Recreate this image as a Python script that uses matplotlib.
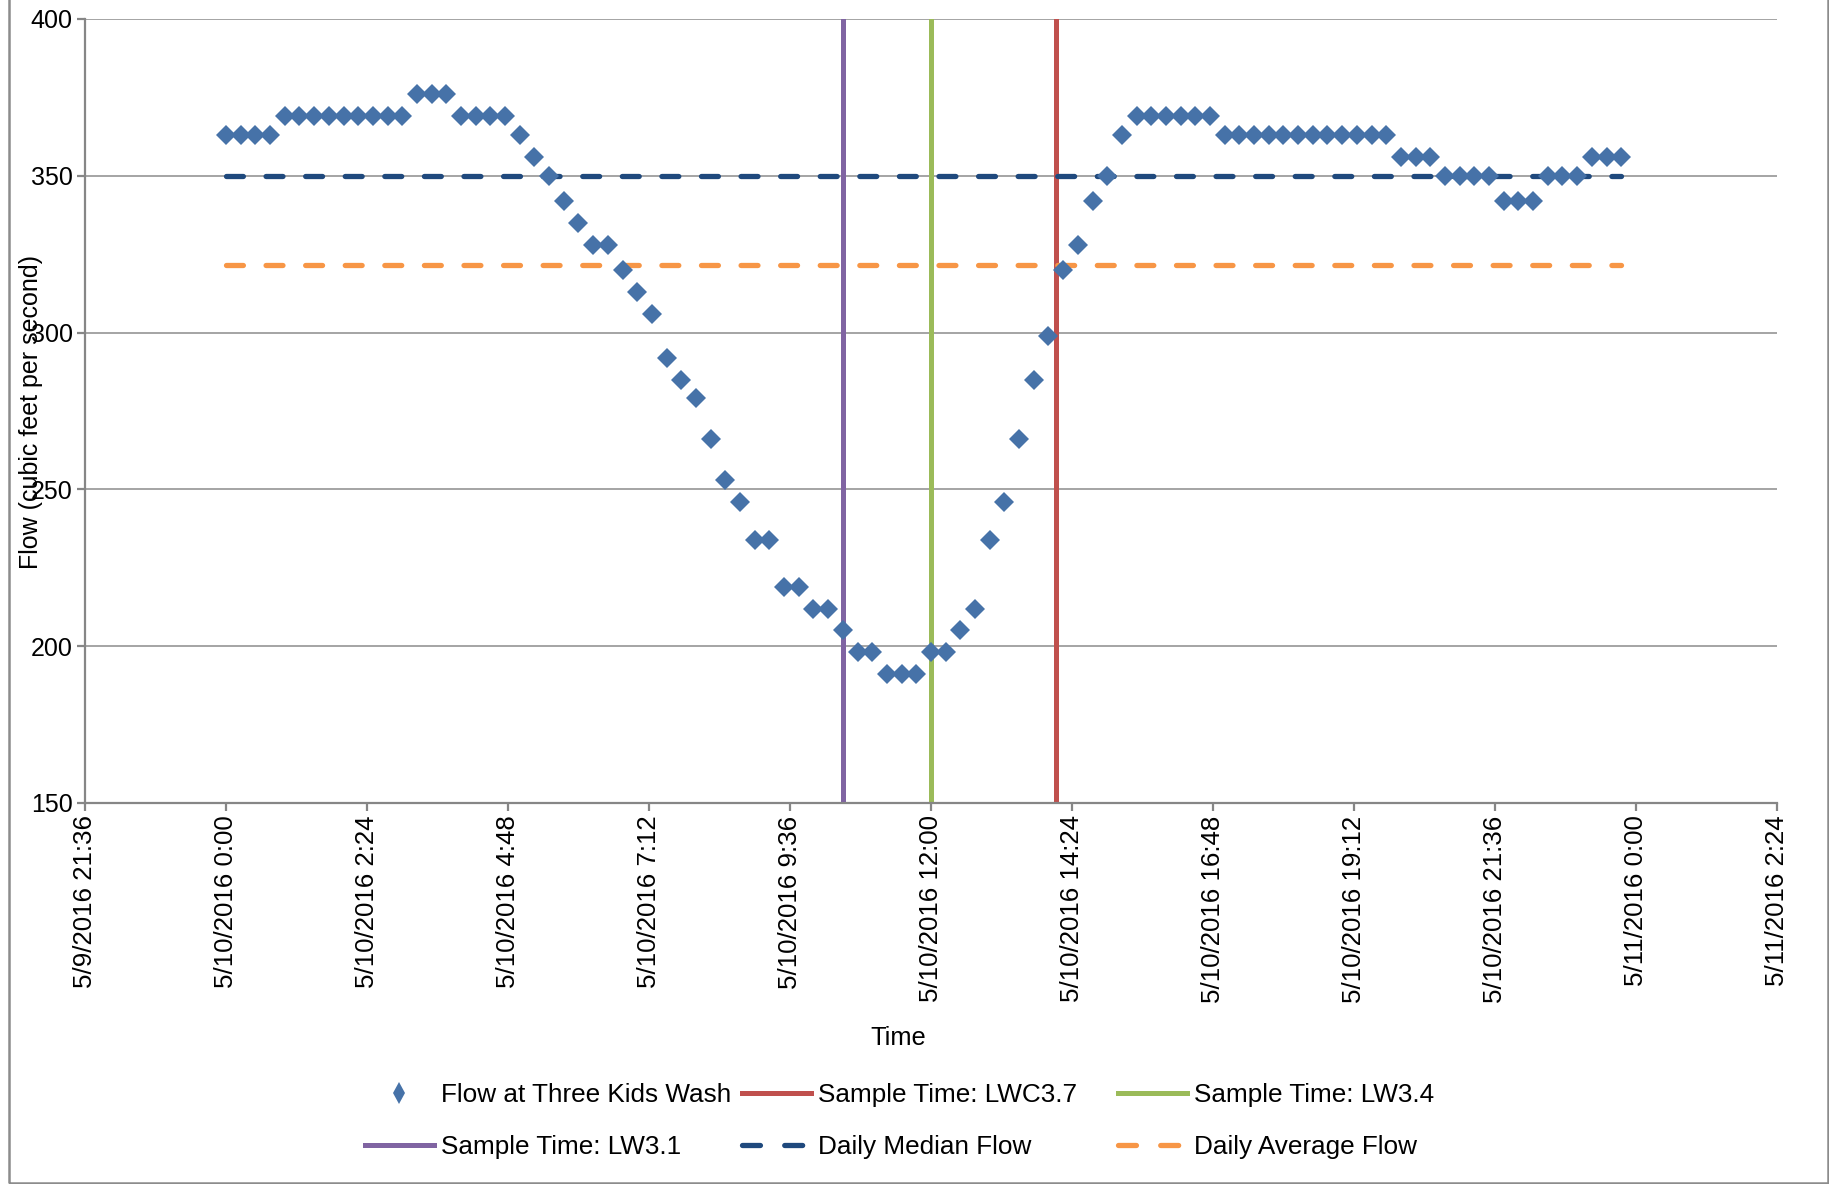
import datetime as dt
import matplotlib
matplotlib.use("Agg")
import matplotlib.pyplot as plt
from matplotlib.lines import Line2D
from matplotlib.patches import Rectangle
import numpy as np
import pandas as pd

plt.rcParams["font.family"] = ["Liberation Sans", "DejaVu Sans"]

# flow (cfs) every 15 min on 5/10/2016
flow = [363, 363, 363, 363, 369, 369, 369, 369, 369, 369, 369, 369, 369,
        376, 376, 376, 369, 369, 369, 369,
        363, 356, 350, 342, 335, 328, 328, 320, 313, 306,
        292, 285, 279, 266, 253, 246, 234, 234, 219, 219,
        212, 212, 205, 198, 198, 191, 191, 191,
        198, 198, 205, 212, 234, 246, 266, 285, 299, 320,
        328, 342, 350, 363,
        369, 369, 369, 369, 369, 369,
        363, 363, 363, 363, 363, 363, 363, 363, 363, 363, 363, 363,
        356, 356, 356, 350, 350, 350, 350, 342, 342, 342,
        350, 350, 350, 356, 356, 356]
start_time = "2016-05-10 00:00"

sample_names = ["LWC3.7", "LW3.4", "LW3.1"]
sample_times = ["2016-05-10 14:08", "2016-05-10 12:00", "2016-05-10 10:30"]

tick_labels = ["5/9/2016 21:36", "5/10/2016 0:00", "5/10/2016 2:24",
               "5/10/2016 4:48", "5/10/2016 7:12", "5/10/2016 9:36",
               "5/10/2016 12:00", "5/10/2016 14:24", "5/10/2016 16:48",
               "5/10/2016 19:12", "5/10/2016 21:36", "5/11/2016 0:00",
               "5/11/2016 2:24"]

FLOW_C = "#4672A8"
MED_C = "#1F497D"
AVG_C = "#F79646"
sample_colors = {"LWC3.7": "#C0504D", "LW3.4": "#9BBB59", "LW3.1": "#8064A2"}
GRID_C = "#8C8C8C"

times = pd.date_range(start_time, periods=len(flow), freq="15min")
ticks = [dt.datetime.strptime(s, "%m/%d/%Y %H:%M") for s in tick_labels]
median_flow = np.median(flow)
mean_flow = np.mean(flow)

fig = plt.figure(figsize=(18.29, 11.84), dpi=100)
ax = fig.add_axes([0.0465, 0.3218, 0.925, 0.6622])

# outer chart border
fig.add_artist(Rectangle((9 / 1829, 1 / 1184), 1819 / 1829, 1.2,
                         transform=fig.transFigure, fill=False,
                         edgecolor="#8C8C8C", lw=1.8, clip_on=False))

for name, t in zip(sample_names, sample_times):
    ax.axvline(pd.Timestamp(t), color=sample_colors[name], lw=3.6, zorder=2)

dash = (0, (3.2, 4.3))
ax.plot([times[0], times[-1]], [median_flow, median_flow], color=MED_C, lw=3.8,
        ls=dash, dash_capstyle="round", zorder=3)
ax.plot([times[0], times[-1]], [mean_flow, mean_flow], color=AVG_C, lw=3.8,
        ls=dash, dash_capstyle="round", zorder=3)
ax.plot(times, flow, ls="none", marker="D", ms=10, color=FLOW_C, mew=0, zorder=4)

ax.set_xlim(ticks[0], ticks[-1])
ax.set_ylim(150, 400)
ax.set_yticks(range(150, 401, 50))
ax.set_xticks(ticks)
ax.set_xticklabels(tick_labels, rotation=90)
ax.yaxis.grid(True, color=GRID_C, lw=1.1)
ax.set_axisbelow(True)
for s in ["top", "right"]:
    ax.spines[s].set_visible(False)
for s in ["left", "bottom"]:
    ax.spines[s].set_color("#868686")
    ax.spines[s].set_linewidth(1.6)
ax.tick_params(axis="both", direction="out", length=6, width=1.6,
               color="#868686", labelsize=18, pad=3)
ax.tick_params(axis="x", labelsize=18.6)

fig.text(31 / 1829, 1 - 412 / 1184, "Flow (cubic feet per second)", rotation=90,
         ha="center", va="center", fontsize=18)
fig.text(898 / 1829, 1 - 1038 / 1184, "Time", ha="center", va="center",
         fontsize=18.4)

# legend, three fixed-width columns
leg_dash = (0, (3.4, 4.6))
h_flow = Line2D([], [], ls="none", marker="d", ms=11, color=FLOW_C, mew=0)
h_s = {n: Line2D([], [], color=sample_colors[n], lw=3.6) for n in sample_names}
h_med = Line2D([], [], color=MED_C, lw=3.8, ls=leg_dash, dash_capstyle="round")
h_avg = Line2D([], [], color=AVG_C, lw=3.8, ls=leg_dash, dash_capstyle="round")
columns = [
    (365, [h_flow, h_s["LW3.1"]], ["Flow at Three Kids Wash", "Sample Time: LW3.1"]),
    (742, [h_s["LWC3.7"], h_med], ["Sample Time: LWC3.7", "Daily Median Flow"]),
    (1118, [h_s["LW3.4"], h_avg], ["Sample Time: LW3.4", "Daily Average Flow"]),
]
for x0, hs, ls in columns:
    fig.legend(hs, ls, loc="center left", bbox_to_anchor=(x0 / 1829, 1 - 1121 / 1184),
               frameon=False, borderpad=0, borderaxespad=0, handlelength=2.64,
               handletextpad=0.27, labelspacing=1.1, prop={"size": 18.8})

fig.savefig("out.png", dpi=100)
